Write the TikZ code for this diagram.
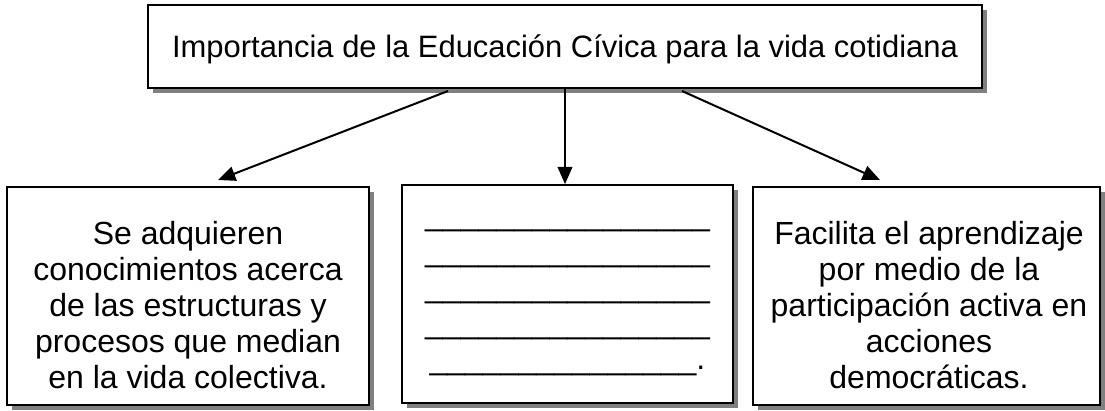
\documentclass[tikz,border=0pt]{standalone}
\usepackage{fontspec}
\setmainfont{Liberation Sans}
\usetikzlibrary{arrows.meta}
\usetikzlibrary{shadows}
\definecolor{sombra}{rgb}{0.5, 0.5, 0.5}
\tikzset{caja/.style = {draw, line width=1.3pt, fill=white, inner sep=0pt,
                        general shadow={fill=sombra, shadow xshift=3.5pt, shadow yshift=-3.5pt}},
         texto/.style = {align=center, inner sep=0pt, anchor=north,
                         font=\fontsize{24}{27}\selectfont},
         flecha/.style = {line width=1.5pt, -{Triangle[length=13pt, width=11pt]}}}

\begin{document}
\begin{tikzpicture}[x=0.75pt, y=-0.75pt]
      \useasboundingbox (0, 0) rectangle (1105, 410);

      \node [caja, minimum width=625.5pt, minimum height=62.25pt,
             font=\fontsize{23.2}{27}\selectfont, text height=16.6pt, text depth=0pt]
            (titulo) at (565, 46.5) {Importancia de la Educación Cívica para la vida cotidiana};

      \node [caja, minimum width=271.5pt, minimum height=163.5pt] (izq) at (188, 296) {};
      \node [caja, minimum width=248.25pt, minimum height=163.5pt] (centro) at (567.5, 294) {};
      \node [caja, minimum width=260.25pt, minimum height=163.5pt] (der) at (926.5, 296) {};

      % texto de cada caja, la primera linea con \strut
      \node [texto] (izqtxt) at (188, 218.8) {\strut Se adquieren\\ conocimientos acerca\\ de las estructuras y\\ procesos que median\\ en la vida colectiva.\strut};
      \node [texto] (centrotxt) at (567.5, 200) {\strut\_\_\_\_\_\_\_\_\_\_\_\_\_\_\_\_\\ \_\_\_\_\_\_\_\_\_\_\_\_\_\_\_\_\\ \_\_\_\_\_\_\_\_\_\_\_\_\_\_\_\_\\ \_\_\_\_\_\_\_\_\_\_\_\_\_\_\_\_\\ \_\_\_\_\_\_\_\_\_\_\_\_\_\_\_.\strut};
      \node [texto] (dertxt) at (929, 218.8) {\strut Facilita el aprendizaje\\ por medio de la\\ participación activa en\\ acciones\\ democráticas.\strut};

      \coordinate (izqraiz) at (448, 91);
      \coordinate (derraiz) at (682, 91);
      \coordinate (izqpunta) at (218, 180);
      \coordinate (derpunta) at (880, 180);
      \draw [flecha] (izqraiz) -- (izqpunta);
      \draw [flecha] (titulo.south) -- (titulo.south |- centro.north);
      \draw [flecha] (derraiz) -- (derpunta);
\end{tikzpicture}
\end{document}
